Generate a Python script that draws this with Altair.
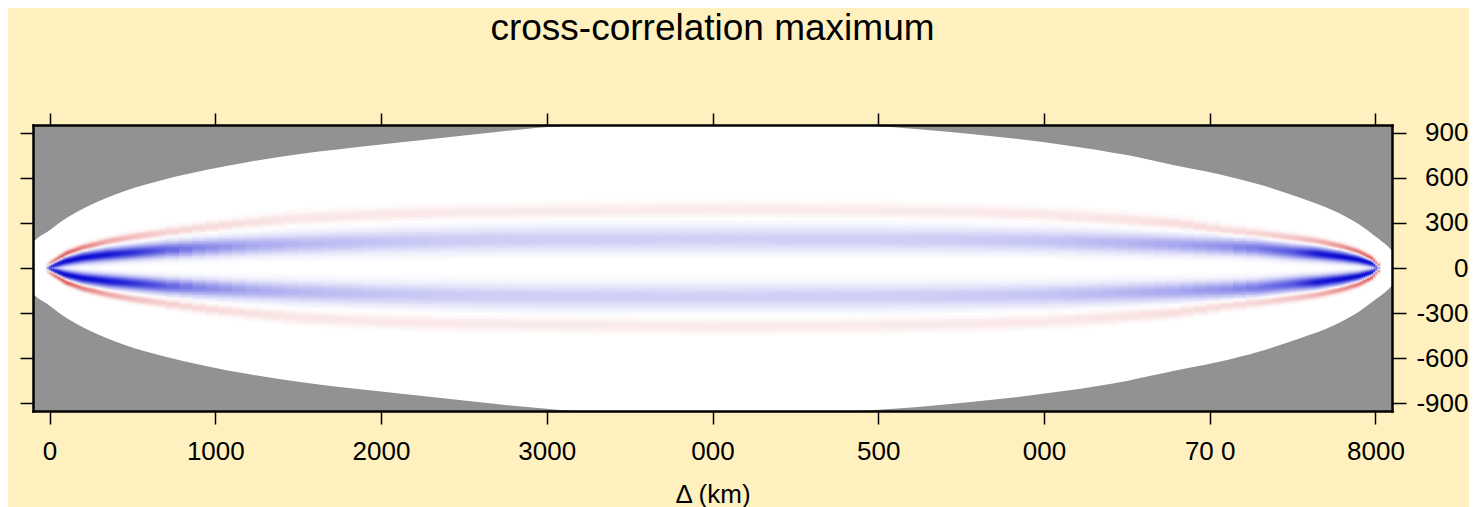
import altair as alt
import numpy as np
import pandas as pd

# ---- data -----------------------------------------------------------------
# outline of the data region: half-height (lag units) vs distance (km)
bound_x = [-130, -100, 0, 100, 250, 450, 700, 950, 1200, 1500, 2000, 2500, 2800,
           3065, 3400, 4000, 4600, 4950, 5530, 6130, 6500, 6800, 7050, 7300, 7550,
           7750, 7900, 8000, 8100, 8130]
bound_h = [130, 170, 250, 330, 420, 510, 590, 652, 705, 755, 820, 880, 915,
           941, 962, 970, 962, 945, 893, 816, 750, 680, 625, 555, 465,
           380, 290, 210, 115, 70]

# band structure read at these distances (km)
band_x = [-30, 0, 100, 200, 350, 500, 700, 900, 1200, 1500, 2000, 2500, 3000, 4000,
          5000, 5500, 6000, 6500, 6800, 7100, 7300, 7500, 7650, 7800, 7900, 7980, 8020]
# negative (blue) lobes: centre offset, width, strength
blue_off = [0, 10, 45, 68, 88, 102, 120, 133, 148, 160, 175, 185, 190, 192,
            190, 186, 180, 165, 155, 143, 130, 108, 95, 74, 55, 30, 0]
blue_wid = [10, 14, 20, 24, 28, 30, 34, 38, 42, 46, 50, 54, 56, 57,
            56, 54, 50, 46, 42, 38, 35, 32, 28, 24, 20, 15, 10]
blue_amp = [0.6, 0.95, 1.0, 1.0, 0.95, 0.85, 0.65, 0.5, 0.36, 0.29, 0.24, 0.21, 0.2, 0.19,
            0.2, 0.21, 0.24, 0.3, 0.36, 0.45, 0.55, 0.68, 0.95, 1.0, 1.0, 1.0, 0.6]
# positive (red) lobes: centre offset, width, strength
red_off = [0, 25, 95, 135, 175, 205, 235, 265, 300, 330, 355, 370, 378, 388,
           382, 372, 355, 320, 295, 250, 228, 200, 178, 142, 108, 62, 15]
red_wid = [10, 12, 13, 14, 16, 18, 20, 22, 25, 28, 30, 32, 32, 33,
           32, 32, 30, 28, 26, 22, 20, 18, 16, 14, 13, 12, 10]
red_amp = [0.6, 0.75, 0.72, 0.55, 0.38, 0.28, 0.2, 0.16, 0.13, 0.11, 0.1, 0.09, 0.09, 0.09,
           0.09, 0.09, 0.1, 0.12, 0.14, 0.16, 0.19, 0.25, 0.34, 0.48, 0.6, 0.75, 0.6]

x_ticks = [0, 1000, 2000, 3000, 4000, 5000, 6000, 7000, 8000]
x_tick_labels = ["0", "1000", "2000", "3000", "000", "500", "000", "70 0", "8000"]
y_ticks = [-900, -600, -300, 0, 300, 600, 900]

title_text = "cross-correlation maximum"
x_title = "\u0394 (km)"

# ---- build tables ----------------------------------------------------------
outline = pd.DataFrame({"x": bound_x, "lo": [-h for h in bound_h], "hi": bound_h})


def field_cells(x_edges, y_edges, ox, oy):
    xc = (x_edges[:-1] + x_edges[1:]) / 2
    yc = (y_edges[:-1] + y_edges[1:]) / 2
    ay = np.abs(yc)
    out = []
    for i, cx in enumerate(xc):
        if cx < band_x[0] or cx > band_x[-1]:
            continue
        cb = np.interp(cx, band_x, blue_off)
        sb = np.interp(cx, band_x, blue_wid)
        ab = np.interp(cx, band_x, blue_amp)
        cr = np.interp(cx, band_x, red_off)
        sr = np.interp(cx, band_x, red_wid)
        ar = np.interp(cx, band_x, red_amp)
        v = (-ab * np.exp(-0.5 * ((ay - cb) / sb) ** 2)
             + ar * np.exp(-0.5 * ((ay - cr) / sr) ** 2))
        for j, val in enumerate(v):
            if abs(val) >= 0.012:
                out.append((x_edges[i], x_edges[i + 1] + ox, y_edges[j],
                            y_edges[j + 1] + oy, float(val)))
    return out


rows = []
rows += field_cells(np.arange(-40, 713, 12.0), np.arange(-330, 331, 6.0), 5, 5)
rows += field_cells(np.linspace(704, 7300, 84), np.arange(-500, 501, 10.0), 6, 7)
rows += field_cells(np.arange(7292, 8061, 12.0), np.arange(-330, 331, 6.0), 5, 5)
cells = pd.DataFrame(rows, columns=["x0", "x1", "y0", "y1", "v"])

FONT = "Liberation Sans"
xscale = alt.Scale(domain=[-100, 8100], nice=False, zero=False)
yscale = alt.Scale(domain=[-950, 950], nice=False, zero=False)
label_expr = "[" + ",".join("'%s'" % s for s in x_tick_labels) + "][round(datum.value/1000)]"
ylabel_expr = "datum.value < 0 ? '-' + abs(datum.value) : '' + datum.value"

common_axis = dict(domainColor="black", domainWidth=2.5, domainCap="square",
                   tickColor="black", tickWidth=1.5, grid=False, zindex=1,
                   labelFont=FONT, labelFontSize=26, labelColor="black",
                   titleFont=FONT, titleFontSize=26, titleFontWeight="normal",
                   titleColor="black")

outline_layer = alt.Chart(outline).mark_area(color="white", interpolate="monotone",
                                               clip=True).encode(
    x=alt.X("x:Q", scale=xscale,
            axis=alt.Axis(orient="bottom", values=x_ticks, labelExpr=label_expr,
                          tickSize=13, labelPadding=14, title=x_title, titlePadding=17,
                          labelFlush=False, **common_axis)),
    y=alt.Y("lo:Q", scale=yscale,
            axis=alt.Axis(orient="right", values=y_ticks, tickSize=14, labelPadding=62,
                          labelAlign="right", labelExpr=ylabel_expr, title=None,
                          **common_axis)),
    y2="hi:Q",
)

cell_layer = alt.Chart(cells).mark_rect(strokeWidth=0, clip=True).encode(
    x=alt.X("x0:Q", scale=xscale,
            axis=alt.Axis(orient="top", values=x_ticks, tickSize=12, labels=False,
                          title=None, **common_axis)),
    x2="x1:Q",
    y=alt.Y("y0:Q", scale=yscale,
            axis=alt.Axis(orient="left", values=y_ticks, tickSize=13, labels=False,
                          title=None, **common_axis)),
    y2="y1:Q",
    color=alt.Color("v:Q", legend=None,
                    scale=alt.Scale(domain=[-1, 0, 1],
                                    range=["#0a0ad2", "#ffffff", "#d01010"],
                                    interpolate="rgb")),
)

chart = alt.layer(outline_layer, cell_layer).resolve_axis(
    x="independent", y="independent"
).properties(
    width=1359, height=286,
    title=alt.TitleParams(title_text, font=FONT, fontSize=37, fontWeight="normal",
                          color="black", anchor="middle", offset=64),
    autosize=alt.AutoSizeParams(type="none"),
    padding={"left": 25, "top": 117, "right": 77, "bottom": 96},
).configure(background="#FEF1BF").configure_view(fill="#929292", stroke="transparent")

chart.save("out.html", embed_options={"renderer": "svg", "actions": False})
